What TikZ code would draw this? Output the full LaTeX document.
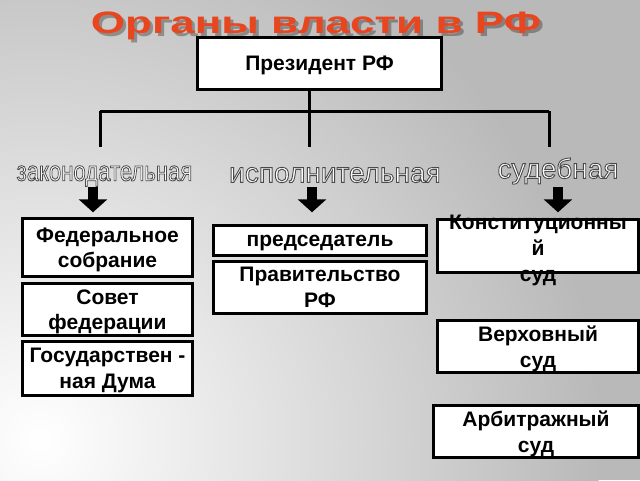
\documentclass[tikz,border=0pt]{standalone}
\usepackage{fontspec}
\setmainfont{Liberation Sans}
\usepackage{tikz}
\usetikzlibrary{
  	positioning,
  	arrows.meta,
  	shapes,
  	calc
  }

\definecolor{bgdark}{HTML}{B9B9B9}
\definecolor{titlered}{HTML}{E8461F}

% hollow letters: white fill, dark grey stroke
\newcommand{\hollow}[1]{{\color{white}\special{pdf:literal direct 2 Tr 0.9 w 0.29 0.29 0.29 RG}#1\special{pdf:literal direct 0 Tr}}}

\tikzset{
  box/.style={draw, line width=2.4pt, fill=white, align=center, inner sep=0pt, text depth=0pt,
    font=\bfseries\fontsize{21}{25.5}\selectfont},
  branch/.style={inner sep=0pt, font=\fontsize{28}{28}\selectfont},
  tree/.style={line width=3pt},
  bigarrow/.style={line width=10pt, -{Triangle[length=13pt,width=28pt]}}
}

\begin{document}
\begin{tikzpicture}[x=1pt, y=-1pt]
	\useasboundingbox (0,0) rectangle (640,480);
	% background
	\begin{scope}
		\clip (0,0) rectangle (640,480);
		\fill[bgdark] (0,0) rectangle (640,480);
		\shade[inner color=white, outer color=bgdark] (40,440) circle (560);
	\end{scope}
%
	\node[anchor=base, text=black, opacity=.3, font=\bfseries\fontsize{31}{31}\selectfont] (Tsh) at (319,36) {\scalebox{1.42}[1]{Органы власти в РФ}};
	\node[anchor=base, text=titlered, font=\bfseries\fontsize{31}{31}\selectfont] (T) at (316,33) {\scalebox{1.42}[1]{Органы власти в РФ}};
%
	\node[box, minimum width=244, minimum height=52] (Pres) at (319.5,63.5) {Президент РФ};
%
	\node[branch] (Bzak) at (104.5,176) {\hollow{\scalebox{0.79}[1]{законодательная}}};
	\node[branch] (Bisp) at (335,175) {\hollow{исполнительная}};
	\node[branch] (Bsud) at (558,171) {\hollow{судебная}};
%
	\coordinate (J) at (309,111);
	\coordinate (Jzak) at (100,111);
	\coordinate (Jsud) at (549,111);
	\draw[tree] (Pres.south -| J) -- (J);
	\draw[tree] (Jzak) -- (Jsud);
	\draw[tree] (Jzak) -- ++(0,36);
	\draw[tree] (J) -- ++(0,36);
	\draw[tree] (Jsud) -- ++(0,36);
%
	\node[box, minimum width=170, minimum height=58] (Fed) at (107.5,247.5) {Федеральное\\собрание};
	\node[box, minimum width=170, minimum height=52] (Sov) at (107.5,309.5) {Совет\\федерации};
	\node[box, minimum width=170, minimum height=54] (Gos) at (107.5,368.5) {Государствен -\\ная Дума};
%
	\node[box, minimum width=213, minimum height=30] (Pred) at (320,240.5) {председатель};
	\node[box, minimum width=213, minimum height=52] (Prav) at (320,287.5) {Правительство\\РФ};
%
	\node[box, minimum width=201, minimum height=53] (Kon) at (538,246) {};
	\node[align=center, inner sep=0pt, text depth=0pt, font=\bfseries\fontsize{21}{26}\selectfont] (KonT) at (538,248) {Конституционны\\й\\суд};
	\node[box, minimum width=201, minimum height=52] (Ver) at (538,346.5) {Верховный\\суд};
	\node[box, minimum width=205, minimum height=52] (Arb) at (536,431.5) {Арбитражный\\суд};
%
	\coordinate (Azak) at (93,187);
	\coordinate (Aisp) at (312,187);
	\coordinate (Asud) at (558,187);
	\draw[bigarrow] (Azak) -- ($(Azak |- Fed.north)+(0,-5)$);
	\draw[bigarrow] (Aisp) -- ($(Aisp |- Pred.north)+(0,-12)$);
	\draw[bigarrow] (Asud) -- ($(Asud |- Kon.north)+(0,-6)$);
\end{tikzpicture}
\end{document}
